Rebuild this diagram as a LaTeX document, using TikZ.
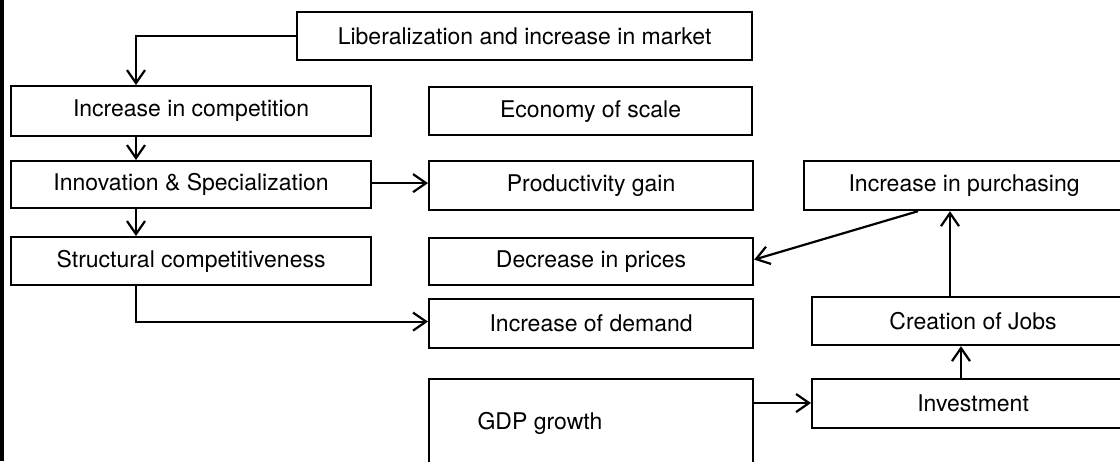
\documentclass[tikz,border=0pt]{standalone}
\usepackage{fontspec}
\setmainfont{TeX Gyre Heros}
\usepackage{tikz}
\usetikzlibrary{calc,arrows.meta}

\begin{document}
\begin{tikzpicture}[x=1pt,y=-1pt,
    box/.style={draw, line width=2.2pt, inner sep=0pt, anchor=north west,
        font=\fontsize{23}{27}\selectfont},
    arr/.style={line width=2.2pt, -{Straight Barb[length=13pt,width=18pt,line width=2.2pt]}}]
    \useasboundingbox (0,0) rectangle (1120,461);
    \clip (0,0) rectangle (1120,461);
    \fill (0,0) rectangle (3.5,461);
    % left column
    \node[box, minimum width=455pt, minimum height=48pt] (lib) at (296,11) {Liberalization and increase in market};
    \node[box, minimum width=360pt, minimum height=50pt] (comp) at (10,85) {Increase in competition};
    \node[box, minimum width=360pt, minimum height=47pt] (innov) at (10,160) {Innovation \& Specialization};
    \node[box, minimum width=360pt, minimum height=48pt] (struct) at (10,236) {Structural competitiveness};
    % middle column
    \node[box, minimum width=323pt, minimum height=48pt] (econ) at (428,86) {Economy of scale};
    \node[box, minimum width=324pt, minimum height=49pt] (prod) at (428,160) {Productivity gain};
    \node[box, minimum width=324pt, minimum height=47pt] (prices) at (428,237) {Decrease in prices};
    \node[box, minimum width=324pt, minimum height=49pt] (demand) at (428,298) {Increase of demand};
    \node[box, minimum width=324pt, minimum height=110pt] (gdp) at (428,378) {};
    \node[font=\fontsize{23}{27}\selectfont, inner sep=0pt] (gdptext) at (540,423) {GDP growth};
    % right column
    \node[box, minimum width=320pt, minimum height=49pt] (purch) at (803,160) {Increase in purchasing};
    \node[box, minimum width=322pt, minimum height=48pt] (jobs) at (811,296) {Creation of Jobs};
    \node[box, minimum width=322pt, minimum height=49pt] (invest) at (811,378) {Investment};
    % arrows
    \draw[arr] (lib.west) -| ([xshift=126pt]comp.north west);
    \draw[arr] ([xshift=126pt]comp.south west) -- ([xshift=126pt]innov.north west);
    \draw[arr] ([xshift=126pt]innov.south west) -- ([xshift=126pt]struct.north west);
    \draw[arr] ([yshift=1.5pt]innov.east) -- ([yshift=1.5pt]innov.east -| prod.west);
    \draw[arr] ([xshift=126pt]struct.south west) |- ([yshift=2pt]demand.west);
    \draw[arr] ([xshift=115pt]purch.south west) -- ([yshift=2pt]prices.east);
    \draw[arr] ([xshift=139pt]jobs.north west) -- ([xshift=139pt]jobs.north west |- purch.south);
    \draw[arr] ([xshift=150pt]invest.north west) -- ([xshift=150pt]invest.north west |- jobs.south);
    \draw[arr] ([yshift=-25pt]gdp.north east) -- ([yshift=-25pt]gdp.north east -| invest.west);
\end{tikzpicture}
\end{document}
